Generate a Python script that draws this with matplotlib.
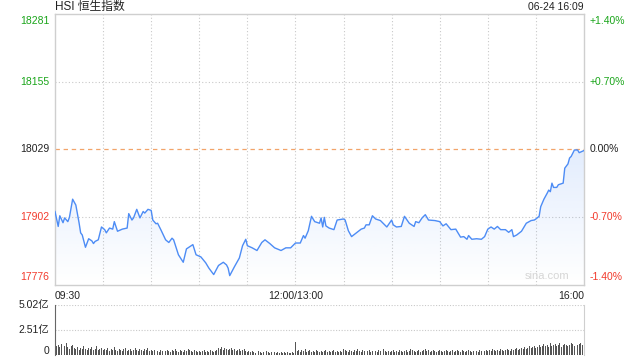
import matplotlib
matplotlib.use("Agg")
import matplotlib.pyplot as plt
import numpy as np
from matplotlib.patches import Polygon

plt.rcParams['font.family'] = ['Liberation Sans', 'Noto Sans CJK SC', 'DejaVu Sans']

# ---------------- data ----------------
title = "HSI 恒生指数"
stamp = "06-24 16:09"
prev_close = 18029
y_ticks = [17776, 17902, 18029, 18155, 18281]
pct_labels = ["-1.40%", "-0.70%", "0.00%", "+0.70%", "+1.40%"]
x_tick_pos = [0, 150, 330]
x_tick_labels = ["09:30", "12:00/13:00", "16:00"]
vol_ticks = [0, 2.51, 5.02]
vol_tick_labels = ["0", "2.51亿", "5.02亿"]

# trading minutes since 09:30 (lunch break removed)
minutes = [0, 2, 3, 5, 6, 8, 9, 11, 13, 15, 16, 17, 19, 20, 21, 23, 24, 25, 27, 29,
           31, 32, 34, 36, 37, 39, 42, 45, 46, 48, 49, 51, 53, 55, 56, 58, 60, 61, 63, 64,
           66, 69, 71, 73, 74, 77, 80, 82, 86, 88, 91, 94, 96, 99, 102, 105, 107, 108, 109, 112,
           115, 117, 119, 120, 123, 126, 129, 131, 134, 137, 141, 144, 147, 150, 153, 155, 156, 158, 160, 162,
           165, 166, 167, 168, 169, 171, 174, 176, 180, 181, 183, 185, 188, 191, 193, 194, 196, 198, 200, 203,
           207, 210, 211, 213, 216, 218, 221, 224, 225, 227, 229, 231, 233, 237, 240, 242, 244, 247, 250, 253,
           255, 257, 258, 260, 263, 266, 268, 270, 272, 274, 276, 278, 281, 283, 285, 286, 288, 291, 294, 297,
           299, 300, 302, 303, 305, 307, 308, 309, 310, 311, 313, 314, 317, 318, 320, 321, 322, 324, 326, 327,
           330]
prices = [17912, 17884, 17904, 17891, 17900, 17893, 17901, 17935, 17924, 17891, 17872, 17868, 17845, 17853, 17861, 17857, 17852, 17856, 17859, 17883,
          17878, 17872, 17881, 17879, 17893, 17875, 17879, 17881, 17908, 17896, 17900, 17916, 17900, 17912, 17909, 17916, 17914, 17896, 17889, 17890,
          17878, 17859, 17854, 17862, 17859, 17831, 17817, 17842, 17850, 17831, 17827, 17816, 17806, 17794, 17811, 17817, 17812, 17806, 17792, 17809,
          17825, 17848, 17860, 17848, 17844, 17839, 17854, 17859, 17852, 17844, 17839, 17844, 17844, 17853, 17853, 17867, 17862, 17876, 17903, 17893,
          17890, 17900, 17883, 17901, 17885, 17881, 17878, 17896, 17898, 17896, 17876, 17865, 17872, 17879, 17881, 17887, 17887, 17904, 17898, 17895,
          17883, 17896, 17887, 17883, 17884, 17903, 17890, 17884, 17893, 17891, 17900, 17906, 17896, 17895, 17893, 17885, 17889, 17878, 17879, 17864,
          17865, 17860, 17867, 17860, 17861, 17860, 17865, 17879, 17883, 17879, 17884, 17878, 17878, 17873, 17878, 17865, 17868, 17875, 17890, 17895,
          17896, 17898, 17903, 17921, 17935, 17946, 17952, 17949, 17965, 17957, 17957, 17962, 17965, 17993, 18001, 18012, 18015, 18027, 18027, 18022,
          18026]

# per-minute volume (亿): minute 0, then minutes 1-10, 11-20, ..., 321-330
volume = [5.02,
          0.9, 1.0, 0.8, 1.1, 0.7, 0.9, 1.2, 0.8, 0.6, 0.9,
          1.0, 0.7, 0.6, 0.8, 0.5, 0.7, 0.6, 0.9, 0.6, 0.5,
          0.7, 0.6, 0.8, 0.5, 0.6, 0.9, 0.5, 0.6, 0.7, 0.5,
          0.6, 0.5, 0.7, 0.4, 0.6, 0.5, 0.8, 0.5, 0.4, 0.6,
          0.5, 0.4, 0.6, 0.7, 0.4, 0.5, 0.6, 0.4, 0.5, 0.7,
          0.5, 0.4, 0.6, 0.5, 0.4, 0.6, 0.5, 0.7, 0.4, 0.5,
          0.4, 0.5, 0.6, 0.4, 0.3, 0.5, 0.4, 0.6, 0.4, 0.5,
          0.4, 0.3, 0.5, 0.4, 0.6, 0.4, 0.3, 0.5, 0.4, 0.3,
          0.5, 0.4, 0.6, 0.5, 0.4, 0.3, 0.5, 0.4, 0.3, 0.4,
          0.3, 0.4, 0.5, 0.3, 0.4, 0.3, 0.5, 0.4, 0.3, 0.4,
          0.5, 0.7, 0.6, 0.8, 0.5, 0.7, 0.6, 0.5, 0.6, 0.7,
          0.5, 0.6, 0.4, 0.5, 0.6, 0.4, 0.5, 0.6, 0.4, 0.3,
          0.4, 0.3, 0.4, 0.3, 0.2, 0.3, 0.4, 0.3, 0.2, 0.3,
          0.3, 0.4, 0.3, 0.2, 0.3, 0.2, 0.3, 0.2, 0.3, 0.2,
          0.3, 0.2, 0.3, 0.2, 0.3, 0.2, 0.2, 0.3, 0.2, 1.3,
          0.4, 0.5, 0.3, 0.5, 0.4, 0.6, 0.3, 0.4, 0.5, 0.3,
          0.4, 0.3, 0.5, 0.4, 0.3, 0.4, 0.3, 0.4, 0.5, 0.3,
          0.4, 0.3, 0.4, 0.5, 0.3, 0.4, 0.3, 0.4, 0.3, 0.6,
          0.5, 0.4, 0.3, 0.5, 0.4, 0.3, 0.5, 0.4, 0.6, 0.4,
          0.3, 0.5, 0.4, 0.3, 0.4, 0.5, 0.3, 0.4, 0.3, 0.4,
          0.3, 0.5, 0.4, 0.3, 0.6, 0.4, 0.3, 0.4, 0.3, 0.4,
          0.5, 0.3, 0.4, 0.3, 0.5, 0.4, 0.3, 0.4, 0.5, 0.3,
          0.4, 0.6, 0.5, 0.4, 0.3, 0.4, 0.5, 0.3, 0.4, 0.5,
          0.6, 0.4, 0.5, 0.3, 0.4, 0.5, 0.4, 0.3, 0.4, 0.5,
          0.4, 0.3, 0.4, 0.5, 0.4, 0.3, 0.4, 0.5, 0.3, 0.4,
          0.5, 0.4, 0.3, 0.5, 0.4, 0.3, 0.4, 0.5, 0.4, 0.3,
          0.4, 0.5, 0.4, 0.3, 0.5, 0.4, 0.3, 0.4, 0.5, 0.4,
          0.5, 0.4, 0.6, 0.5, 0.4, 0.5, 0.4, 0.6, 0.5, 0.4,
          0.5, 0.6, 0.5, 0.4, 0.6, 0.5, 0.6, 0.7, 0.5, 0.6,
          0.7, 0.6, 0.8, 0.6, 0.7, 0.9, 0.7, 0.8, 0.9, 0.7,
          0.8, 1.0, 0.8, 0.9, 1.1, 0.9, 1.0, 0.8, 1.2, 0.9,
          1.0, 1.1, 0.9, 1.0, 1.2, 0.8, 1.0, 1.1, 1.0, 0.9,
          1.0, 1.2, 1.1, 0.9, 1.3, 1.0, 1.1, 1.2, 1.0, 3.3]

# ---------------- style ----------------
GREEN = '#1aa51a'
RED = '#f23a2c'
GRID = '#c9c9c9'
BORDER = '#cfcfcf'
LINE = '#4d8cf5'

fig = plt.figure(figsize=(6.4, 3.6), dpi=100)
W, H = 640, 360
L, R = 55, 584
ax = fig.add_axes([L / W, 1 - 284.5 / H, (R - L) / W, (284.5 - 14) / H])
axv = fig.add_axes([L / W, 1 - 355 / H, (R - L) / W, 50 / H])

ymin, ymax = y_ticks[0] - 0.6, y_ticks[-1] + 0.4
ax.set_xlim(0, 330)
ax.set_ylim(ymin, ymax)

# grid
for gx in range(30, 330, 30):
    ax.axvline(gx, color=GRID, lw=0.8, ls=(0, (1, 2)), zorder=1)
for gy in [y_ticks[1], y_ticks[3]]:
    ax.axhline(gy, color=GRID, lw=0.8, ls=(0, (1, 2)), zorder=1)
ax.axhline(prev_close, color='#f2a46a', lw=0.9, ls=(0, (3.5, 3)), zorder=2)

# gradient fill under the line
xs = np.array(minutes, dtype=float)
ys = np.array(prices, dtype=float)
verts = np.vstack([np.column_stack([xs, ys]), [[xs[-1], ymin], [xs[0], ymin]]])
poly = Polygon(verts, closed=True, facecolor='none', edgecolor='none')
ax.add_patch(poly)
grad = np.zeros((256, 1, 4))
grad[:, 0, 0] = 0x4d / 255
grad[:, 0, 1] = 0x8c / 255
grad[:, 0, 2] = 0xf5 / 255
grad[:, 0, 3] = np.linspace(0.16, 0.0, 256)
im = ax.imshow(grad, extent=[0, 330, ymin, ys.max()], origin='upper',
               aspect='auto', zorder=2, interpolation='bilinear')
im.set_clip_path(poly)
ax.set_xlim(0, 330)
ax.set_ylim(ymin, ymax)

ax.plot(minutes, prices, color=LINE, lw=1.0, zorder=3)

for s in ax.spines.values():
    s.set_color(BORDER)
    s.set_linewidth(1.0)
ax.set_xticks([])
ax.set_yticks([])

# left / right labels
lcols = [RED, RED, '#222222', GREEN, GREEN]
for i, (v, c) in enumerate(zip(y_ticks, lcols)):
    va = 'center'
    off = 0
    if i == 0:
        va = 'bottom'
        off = 1.5
    elif i == len(y_ticks) - 1:
        va = 'top'
        off = -1.5
    ax.annotate(str(v), (0, v), xycoords=('axes fraction', 'data'),
                xytext=(-4, off), textcoords='offset points',
                ha='right', va=va, fontsize=7.5, color=c)
    ax.annotate(pct_labels[i], (1, v), xycoords=('axes fraction', 'data'),
                xytext=(4, off), textcoords='offset points',
                ha='left', va=va, fontsize=7.5, color=c)

# x labels
has = ['left', 'center', 'right']
for p, lab, ha in zip(x_tick_pos, x_tick_labels, has):
    ax.annotate(lab, (p, 0), xycoords=('data', 'axes fraction'),
                xytext=(0, -5), textcoords='offset points',
                ha=ha, va='top', fontsize=7.5, color='#222222')

fig.text(L / W, 1 - 7 / H, title, ha='left', va='center', fontsize=8.5, color='#222222')
fig.text(R / W, 1 - 7 / H, stamp, ha='right', va='center', fontsize=7.5, color='#222222')
ax.text(0.93, 0.012, "sina.com", transform=ax.transAxes, ha='center', va='bottom',
        fontsize=8, color='#d6d6d6')

# volume panel
axv.set_xlim(0, 330)
axv.set_ylim(0, vol_ticks[-1])
axv.bar(np.arange(len(volume)), volume, width=0.6, color='#555555', zorder=3)
for vt in vol_ticks[1:]:
    axv.axhline(vt, color=GRID, lw=0.8, ls=(0, (1, 1.5)), zorder=1)
for side in ['top', 'bottom']:
    axv.spines[side].set_visible(False)
axv.spines['left'].set_color('#666666')
axv.spines['right'].set_color(BORDER)
axv.set_xticks([])
axv.set_yticks([])
for vt, lab in zip(vol_ticks, vol_tick_labels):
    axv.annotate(lab, (0, vt), xycoords=('axes fraction', 'data'),
                 xytext=(-4, 3 if vt == 0 else 0), textcoords='offset points',
                 ha='right', va='center', fontsize=7.5, color='#222222')

fig.savefig('out.png', dpi=100)
